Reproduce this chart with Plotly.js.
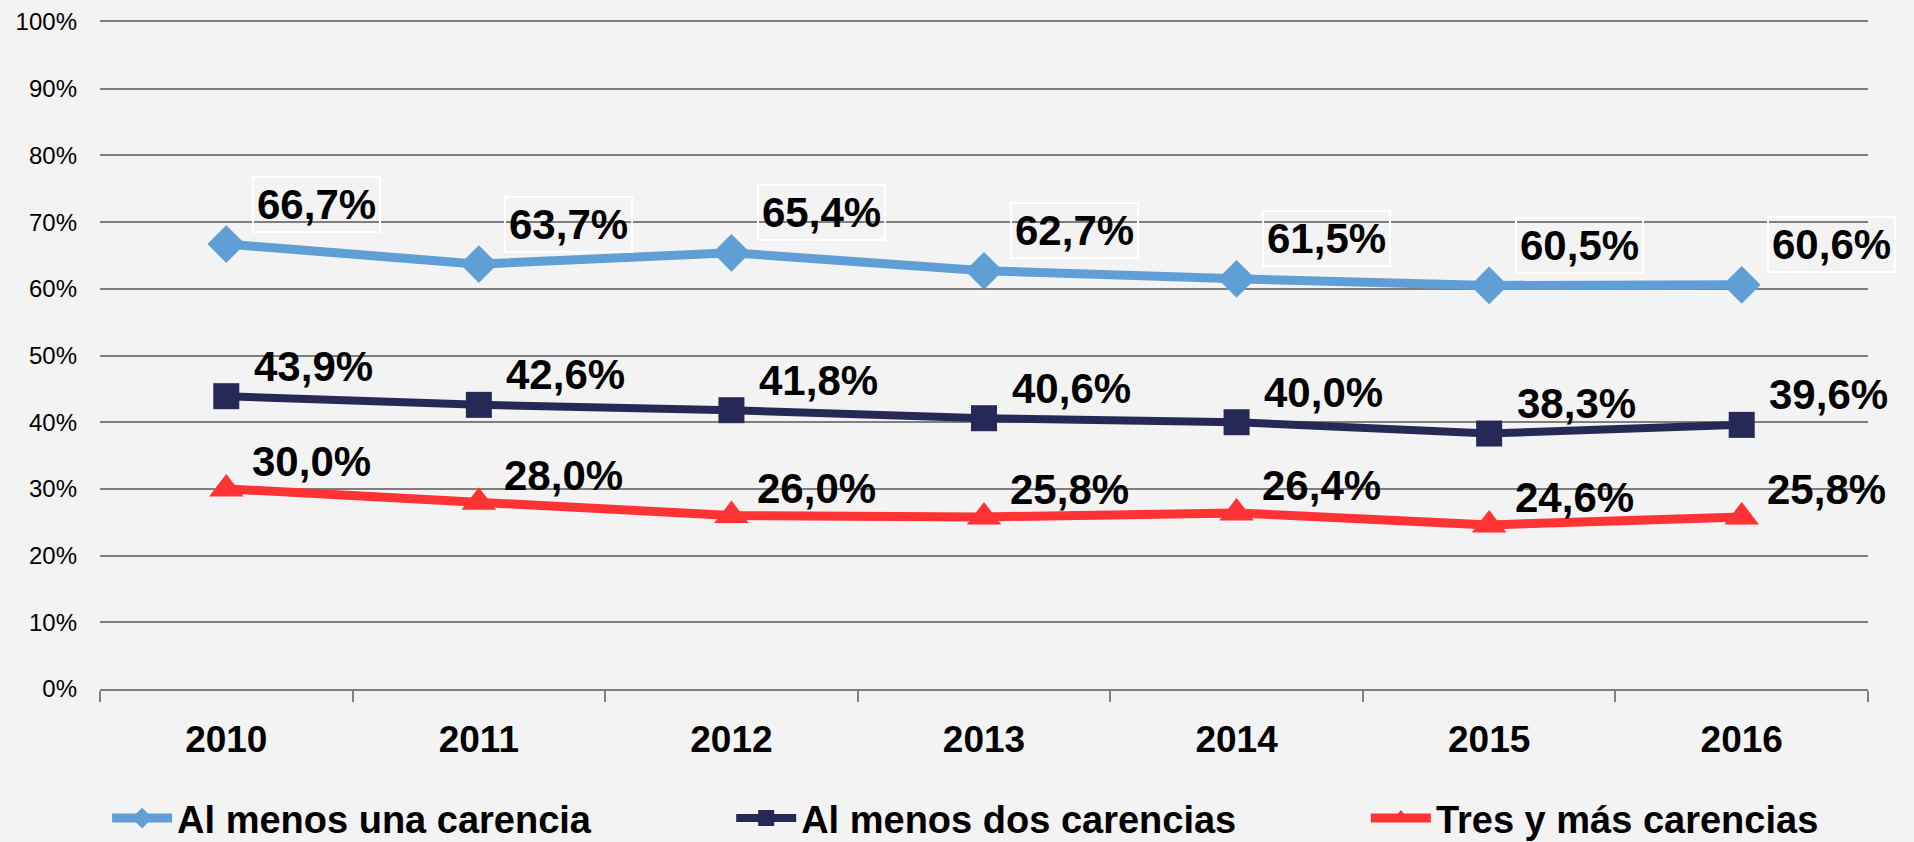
<!DOCTYPE html>
<html>
<head>
<meta charset="utf-8">
<script src="https://cdn.plot.ly/plotly-3.0.1.min.js"></script>
<style>
  html, body { margin: 0; padding: 0; background: #F3F3F3; }
  #chart { width: 1914px; height: 842px; }
</style>
</head>
<body>
<div id="chart"></div>
<script>
// ---- Data ----
const years = ['2010', '2011', '2012', '2013', '2014', '2015', '2016'];
const seriesNames = ['Al menos una carencia', 'Al menos dos carencias', 'Tres y más carencias'];
const alMenosUna = [66.7, 63.7, 65.4, 62.7, 61.5, 60.5, 60.6];
const alMenosDos = [43.9, 42.6, 41.8, 40.6, 40.0, 38.3, 39.6];
const tresYMas = [30.0, 28.0, 26.0, 25.8, 26.4, 24.6, 25.8];
const yTickVals = [0, 10, 20, 30, 40, 50, 60, 70, 80, 90, 100];

// ---- Styles ----
const styles = [
  { color: '#5F9FD5', symbol: 'diamond', size: 29, width: 9, boxed: true, xshift: 90, yshift: 40, legend: 'legend', lx: 0.004 },
  { color: '#262956', symbol: 'square', size: 26, width: 8, boxed: false, xshift: 87, yshift: 30, legend: 'legend2', lx: 0.357 },
  { color: '#FF3333', symbol: 'triangle-up', size: 30, width: 9, boxed: false, xshift: 85, yshift: 27, legend: 'legend3', lx: 0.716 }
];
const allValues = [alMenosUna, alMenosDos, tresYMas];

const fmt = v => v.toFixed(1).replace('.', ',') + '%';
const labelFont = { family: 'Liberation Sans, Arial, sans-serif', size: 42, color: '#000000' };

const traces = allValues.map((vals, i) => ({
  type: 'scatter',
  mode: 'lines+markers',
  name: seriesNames[i],
  legend: styles[i].legend,
  x: years,
  y: vals,
  line: { color: styles[i].color, width: styles[i].width },
  marker: { color: styles[i].color, symbol: styles[i].symbol, size: styles[i].size, line: { width: 0 } },
  hoverinfo: 'skip'
}));

// annotations on a category axis use the category's serial index
const annotations = [];
allValues.forEach((vals, i) => {
  vals.forEach((v, j) => {
    annotations.push({
      x: j, y: v, xref: 'x', yref: 'y',
      text: '<b>' + fmt(v) + '</b>',
      showarrow: false,
      xanchor: 'center', yanchor: 'middle',
      xshift: styles[i].xshift, yshift: styles[i].yshift,
      font: labelFont,
      bordercolor: styles[i].boxed ? '#FFFFFF' : 'rgba(0,0,0,0)',
      borderwidth: styles[i].boxed ? 2 : 0,
      borderpad: 3
    });
  });
});

const legendBase = {
  orientation: 'h', xanchor: 'left', y: -0.194, yanchor: 'middle',
  font: { family: 'Liberation Sans, Arial, sans-serif', size: 38, color: '#000000', weight: 'bold' },
  itemwidth: 60,
  bgcolor: 'rgba(0,0,0,0)'
};

const layout = {
  width: 1914, height: 842,
  paper_bgcolor: '#F3F3F3', plot_bgcolor: '#F3F3F3',
  margin: { l: 100, r: 46, t: 22, b: 153, autoexpand: false },
  showlegend: true,
  legend: Object.assign({}, legendBase, { x: styles[0].lx }),
  legend2: Object.assign({}, legendBase, { x: styles[1].lx }),
  legend3: Object.assign({}, legendBase, { x: styles[2].lx }),
  xaxis: {
    type: 'category',
    categoryorder: 'array', categoryarray: years,
    range: [-0.5, years.length - 0.5],
    showgrid: false,
    showline: true, mirror: true, linecolor: '#7F7F7F', linewidth: 2,
    ticks: 'outside', tickson: 'boundaries', ticklen: 11, tickcolor: '#7F7F7F', tickwidth: 2,
    tickangle: 0,
    tickfont: { family: 'Liberation Sans, Arial, sans-serif', size: 37, color: '#000000', weight: 'bold' },
    ticklabelstandoff: 17,
    fixedrange: true
  },
  yaxis: {
    range: [0, 100],
    tickvals: yTickVals,
    ticktext: yTickVals.map(v => v + '%'),
    showgrid: true, gridcolor: '#7F7F7F', gridwidth: 2,
    zeroline: false, showline: false,
    ticks: '',
    tickfont: { family: 'Liberation Sans, Arial, sans-serif', size: 24, color: '#000000' },
    ticklabelstandoff: 22,
    fixedrange: true
  },
  annotations: annotations
};

Plotly.newPlot('chart', traces, layout, { displayModeBar: false, staticPlot: true });
</script>
</body>
</html>
